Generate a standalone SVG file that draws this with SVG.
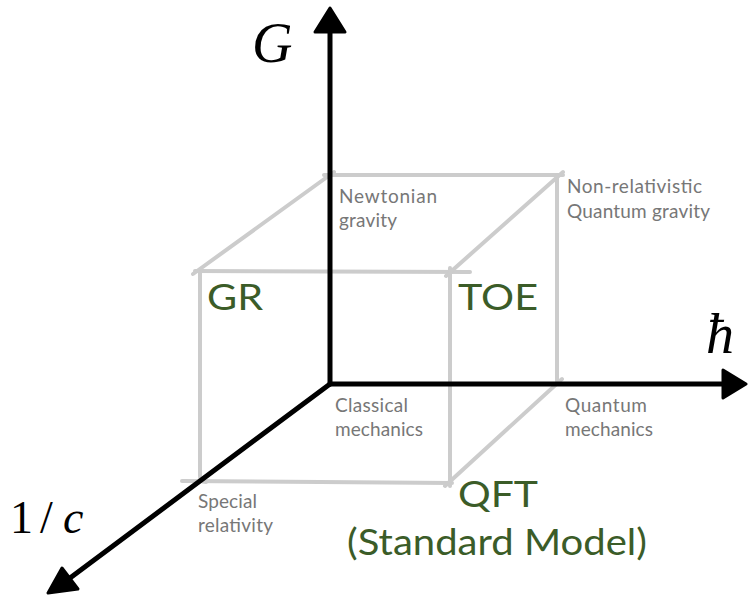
<svg xmlns="http://www.w3.org/2000/svg" width="748" height="597" viewBox="0 0 748 597">
<style>
.cube{stroke:#cccccc;stroke-width:4;fill:none;stroke-linecap:round;stroke-linejoin:round}
.axis{stroke:#000;stroke-width:5;fill:none;stroke-linecap:round}
.head{fill:#000;stroke:#000;stroke-width:3;stroke-linejoin:round}
.gray{font-family:Lato,"Open Sans","Liberation Sans",sans-serif;font-size:19px;fill:#777777}
.green{font-family:Lato,"Open Sans","Liberation Sans",sans-serif;font-size:36px;fill:#3b5c28}
.math{font-family:"Liberation Serif","DejaVu Serif",serif;fill:#000}
</style>
<rect width="748" height="597" fill="#ffffff"/>
<g id="cube">
<path class="cube" d="M324,175 L563,175"/>
<path class="cube" d="M334,172 L193,274"/>
<path class="cube" d="M195,271 L470,272"/>
<path class="cube" d="M200,272 L200,476 Q200,482 206,482"/>
<path class="cube" d="M182,481 L452,483"/>
<path class="cube" d="M450,268 L450,486"/>
<path class="cube" d="M563,172 L446,276"/>
<path class="cube" d="M557,175 L557,381"/>
<path class="cube" d="M562,379 L445,486"/>
</g>
<g id="connectors">
<path class="axis" d="M330,384 L330,30"/>
<path class="head" d="M330,8 L345,32 L315,32 Z"/>
<path class="axis" d="M330,384 L726,384"/>
<path class="head" d="M746,384 L723,370 L723,398 Z"/>
<path class="axis" d="M330,384 L66,581"/>
<path class="head" d="M48,593 L62,568 L78,589 Z"/>
</g>
<g id="label-G"><text class="math" x="252" y="62" font-size="56" font-style="italic">G</text></g>
<g id="label-hbar"><text class="math" x="706" y="353" font-size="56" font-style="italic">ħ</text></g>
<g id="label-c"><text class="math" y="533" font-size="46"><tspan x="10">1</tspan><tspan x="40">/</tspan><tspan x="63" font-style="italic">c</tspan></text></g>
<g id="node-newtonian"><text class="gray" x="339" y="203" textLength="98" lengthAdjust="spacing">Newtonian</text><text class="gray" x="339" y="227" textLength="58" lengthAdjust="spacing">gravity</text></g>
<g id="node-nrqg"><text class="gray" x="567" y="193" textLength="135" lengthAdjust="spacing">Non-relativistic</text><text class="gray" x="567" y="218" textLength="143" lengthAdjust="spacing">Quantum gravity</text></g>
<g id="node-classical"><text class="gray" x="335" y="412" textLength="73" lengthAdjust="spacing">Classical</text><text class="gray" x="335" y="436" textLength="88" lengthAdjust="spacing">mechanics</text></g>
<g id="node-quantum"><text class="gray" x="565" y="412" textLength="82" lengthAdjust="spacing">Quantum</text><text class="gray" x="565" y="436" textLength="88" lengthAdjust="spacing">mechanics</text></g>
<g id="node-special"><text class="gray" x="198" y="508" textLength="59" lengthAdjust="spacing">Special</text><text class="gray" x="198" y="532" textLength="75" lengthAdjust="spacing">relativity</text></g>
<g id="node-gr"><text class="green" x="207" y="310" textLength="56" lengthAdjust="spacingAndGlyphs">GR</text></g>
<g id="node-toe"><text class="green" x="458" y="310" textLength="80" lengthAdjust="spacingAndGlyphs">TOE</text></g>
<g id="node-qft"><text class="green" x="458" y="507" textLength="80" lengthAdjust="spacingAndGlyphs">QFT</text><text class="green" x="347" y="555" textLength="300" lengthAdjust="spacingAndGlyphs">(Standard Model)</text></g>
</svg>
